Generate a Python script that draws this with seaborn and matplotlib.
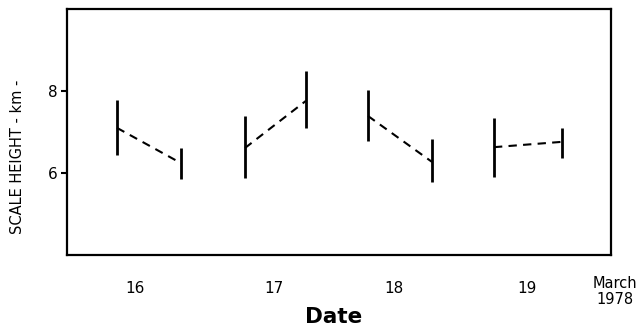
import matplotlib
matplotlib.use("Agg")
import matplotlib.pyplot as plt
import seaborn as sns
import pandas as pd

# --- data ---
times = [15.857, 16.366, 16.875, 17.360, 17.854, 18.363, 18.856, 19.397]   # day of March 1978
day = [16, 16, 17, 17, 18, 18, 19, 19]
height = [7.10, 6.24, 6.61, 7.76, 7.39, 6.27, 6.63, 6.76]
height_lo = [6.44, 5.85, 5.88, 7.10, 6.78, 5.78, 5.90, 6.37]
height_hi = [7.78, 6.61, 7.39, 8.49, 8.02, 6.83, 7.34, 7.10]
day_labels = ["16", "17", "18", "19"]
day_label_pos = [16.0, 17.106, 18.060, 19.119]
y_ticks = [6, 8]

df = pd.DataFrame({"t": times, "day": day, "h": height})

sns.set_theme(style="white")
plt.rcParams["font.family"] = ["DejaVu Sans"]
plt.rcParams["text.color"] = "black"
plt.rcParams["axes.labelcolor"] = "black"

fig = plt.figure(figsize=(6.39, 3.30), dpi=100)
ax = fig.add_axes([67 / 639, 75 / 330, 544 / 639, 246 / 330])

sns.lineplot(data=df, x="t", y="h", units="day", estimator=None,
             color="black", linewidth=1.5, linestyle=(0, (4, 3)), ax=ax,
             legend=False)
ax.vlines(df["t"], height_lo, height_hi, color="black", linewidth=2.0)

ax.set_xlim(15.459, 19.787)
ax.set_ylim(4, 10)

ax.set_yticks(y_ticks)
ax.set_yticklabels([str(v) for v in y_ticks], fontsize=11)
ax.tick_params(axis="y", direction="out", length=4, width=1.5, pad=3,
               left=True, colors="black")
ax.set_xticks(day_label_pos)
ax.set_xticklabels(day_labels, fontsize=11)
ax.tick_params(axis="x", length=0, pad=19, colors="black")

for s in ax.spines.values():
    s.set_visible(True)
    s.set_color("black")
    s.set_linewidth(1.6)

ax.set_xlabel("Date", fontsize=15.5, fontweight="bold", color="black")
ax.set_ylabel("SCALE HEIGHT - km -", fontsize=10.5, color="black")
ax.yaxis.set_label_coords(-0.077, 0.40)
ax.xaxis.set_label_coords(0.49, -0.213)

ax.text(19.819, -0.085, "March\n1978", transform=ax.get_xaxis_transform(),
        ha="center", va="top", fontsize=10.5, linespacing=1.1, color="black")

fig.savefig("out.png", dpi=100)
